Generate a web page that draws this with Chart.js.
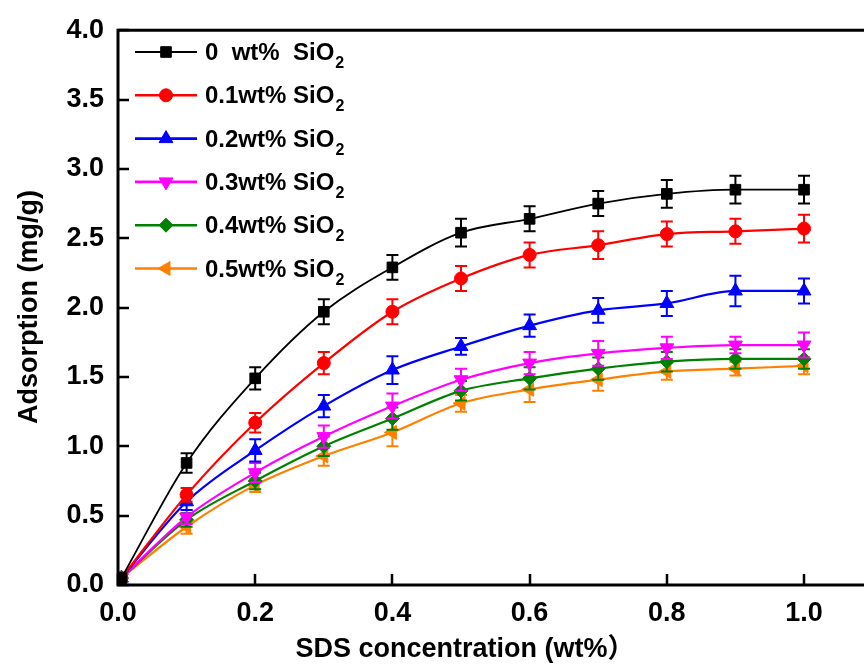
<!DOCTYPE html>
<html>
<head>
<meta charset="utf-8">
<script src="https://cdn.jsdelivr.net/npm/chart.js@4"></script>
<style>
    html, body { margin: 0; padding: 0; background: #fff; }
    #wrap { width: 864px; height: 668px; }
</style>
</head>
<body>
<div id="wrap"><canvas id="chart" width="864" height="668"></canvas></div>
<script>
// SDS concentration (wt%)
const concentrations = [0.005, 0.1, 0.2, 0.3, 0.4, 0.5, 0.6, 0.7, 0.8, 0.9, 1.0];

// adsorption (mg/g) per SiO2 loading
const sio2_0 = [0.05, 0.88, 1.49, 1.97, 2.29, 2.54, 2.64, 2.75, 2.82, 2.85, 2.85];
const sio2_01 = [0.05, 0.65, 1.17, 1.60, 1.97, 2.21, 2.38, 2.45, 2.53, 2.55, 2.57];
const sio2_02 = [0.05, 0.60, 0.97, 1.29, 1.55, 1.72, 1.87, 1.98, 2.03, 2.12, 2.12];
const sio2_03 = [0.05, 0.49, 0.81, 1.07, 1.29, 1.48, 1.60, 1.67, 1.71, 1.73, 1.73];
const sio2_04 = [0.05, 0.47, 0.75, 1.00, 1.20, 1.40, 1.49, 1.56, 1.61, 1.63, 1.63];
const sio2_05 = [0.05, 0.42, 0.72, 0.93, 1.10, 1.31, 1.41, 1.48, 1.54, 1.56, 1.58];

// error bar half heights
const err_0 = [0, 0.07, 0.08, 0.09, 0.09, 0.10, 0.09, 0.09, 0.10, 0.10, 0.10];
const err_01 = [0, 0.05, 0.07, 0.08, 0.09, 0.09, 0.09, 0.10, 0.09, 0.09, 0.10];
const err_02 = [0, 0.06, 0.08, 0.08, 0.10, 0.06, 0.08, 0.09, 0.09, 0.11, 0.09];
const err_03 = [0, 0.05, 0.07, 0.08, 0.09, 0.08, 0.08, 0.09, 0.08, 0.06, 0.09];
const err_04 = [0, 0.05, 0.06, 0.07, 0.08, 0.07, 0.08, 0.08, 0.07, 0.07, 0.07];
const err_05 = [0, 0.05, 0.05, 0.07, 0.10, 0.06, 0.09, 0.08, 0.06, 0.05, 0.06];

const legendLabels = ["0  wt%  SiO", "0.1wt% SiO", "0.2wt% SiO", "0.3wt% SiO", "0.4wt% SiO", "0.5wt% SiO"];
const yTicks = [0, 0.5, 1.0, 1.5, 2.0, 2.5, 3.0, 3.5, 4.0];
const xTicks = [0, 0.2, 0.4, 0.6, 0.8, 1.0];

const FONT = "'Liberation Sans', Arial, 'Noto Sans CJK SC', sans-serif";

function makeSet(label, values, errors, color, style, rotation, radius, width) {
    return {
        label: label,
        data: values.map((v, i) => ({ x: concentrations[i], y: v })),
        errors: errors,
        borderColor: color,
        backgroundColor: color,
        pointBackgroundColor: color,
        pointBorderColor: color,
        pointBorderWidth: 1,
        pointStyle: style,
        pointRotation: rotation,
        pointRadius: radius,
        borderWidth: width,
        cubicInterpolationMode: "monotone",
        tension: 0.4,
    };
}

const datasets = [
    makeSet(legendLabels[0], sio2_0, err_0, "#000000", "rect", 0, 7.5, 1.8),
    makeSet(legendLabels[1], sio2_01, err_01, "#ff0000", "circle", 0, 6.5, 2.2),
    makeSet(legendLabels[2], sio2_02, err_02, "#0000ff", "triangle", 0, 8, 2.2),
    makeSet(legendLabels[3], sio2_03, err_03, "#ff00ff", "triangle", 180, 8, 2.2),
    makeSet(legendLabels[4], sio2_04, err_04, "#008000", "rectRot", 0, 7, 2.2),
    makeSet(legendLabels[5], sio2_05, err_05, "#ff8000", "triangle", -90, 8, 2.2),
];

const decorations = {
    id: "decorations",
    afterDatasetDraw(chart, args) {
        // error bars for this dataset
        const ds = chart.data.datasets[args.index];
        const xs = chart.scales.x, ys = chart.scales.y;
        const ctx = chart.ctx;
        ctx.save();
        ctx.strokeStyle = ds.borderColor;
        ctx.lineWidth = 2;
        ds.data.forEach((p, i) => {
            const e = ds.errors[i];
            if (!e) return;
            const px = xs.getPixelForValue(p.x);
            const top = ys.getPixelForValue(p.y + e);
            const bot = ys.getPixelForValue(p.y - e);
            ctx.beginPath();
            ctx.moveTo(px, top); ctx.lineTo(px, bot);
            ctx.moveTo(px - 6, top); ctx.lineTo(px + 6, top);
            ctx.moveTo(px - 6, bot); ctx.lineTo(px + 6, bot);
            ctx.stroke();
        });
        ctx.restore();
    },
    afterDraw(chart) {
        const ctx = chart.ctx;
        const a = chart.chartArea;
        const xs = chart.scales.x, ys = chart.scales.y;
        ctx.save();
        ctx.strokeStyle = "#000";
        ctx.lineWidth = 3;
        // frame (right side is outside the picture)
        ctx.beginPath();
        ctx.moveTo(chart.width + 2, a.top);
        ctx.lineTo(a.left, a.top);
        ctx.lineTo(a.left, a.bottom);
        ctx.lineTo(chart.width + 2, a.bottom);
        ctx.stroke();
        // inward ticks
        ctx.lineWidth = 2.5;
        ctx.beginPath();
        yTicks.forEach(v => {
            const py = Math.round(ys.getPixelForValue(v));
            ctx.moveTo(a.left, py); ctx.lineTo(a.left + 11, py);
        });
        xTicks.forEach(v => {
            const px = Math.round(xs.getPixelForValue(v));
            ctx.moveTo(px, a.bottom); ctx.lineTo(px, a.bottom - 11);
        });
        ctx.stroke();

        // axis titles
        ctx.fillStyle = "#000";
        ctx.font = "bold 27px " + FONT;
        ctx.textAlign = "center";
        ctx.textBaseline = "middle";
        ctx.fillText("SDS concentration (wt%）", 465, 650);
        ctx.save();
        ctx.translate(30, 307);
        ctx.rotate(-Math.PI / 2);
        ctx.fillText("Adsorption (mg/g)", 0, 0);
        ctx.restore();

        // legend
        chart.data.datasets.forEach((ds, i) => {
            const y = 52 + i * 43.3;
            ctx.strokeStyle = ds.borderColor;
            ctx.fillStyle = ds.borderColor;
            ctx.lineWidth = ds.borderWidth + 0.4;
            ctx.beginPath();
            ctx.moveTo(135, y); ctx.lineTo(197, y);
            ctx.stroke();
            ctx.lineWidth = 1;
            Chart.helpers.drawPoint(ctx, {
                pointStyle: ds.pointStyle,
                rotation: ds.pointRotation,
                radius: ds.pointRadius,
                borderWidth: 1,
            }, 166, y);
            ctx.fillStyle = "#000";
            ctx.textAlign = "left";
            ctx.textBaseline = "alphabetic";
            ctx.font = "bold 24px " + FONT;
            ctx.fillText(ds.label, 205, y + 8);
            const w = ctx.measureText(ds.label).width;
            ctx.font = "bold 16px " + FONT;
            ctx.fillText("2", 205 + w + 1, y + 16);
        });
        ctx.restore();
    },
};

const cfg = {
    type: "line",
    data: { datasets: datasets },
    options: {
        responsive: false,
        animation: false,
        layout: { padding: { top: 25, right: 0, left: 0, bottom: 0 } },
        plugins: {
            legend: { display: false },
            tooltip: { enabled: false },
        },
        scales: {
            x: {
                type: "linear",
                min: 0,
                max: 1.0743,
                grid: { display: false, drawTicks: false },
                border: { display: false },
                ticks: {
                    stepSize: 0.2,
                    includeBounds: false,
                    padding: 12,
                    color: "#000",
                    font: { family: FONT, size: 27, weight: "bold" },
                    callback: v => v.toFixed(1),
                },
                afterFit: s => { s.height = 83; },
            },
            y: {
                min: 0,
                max: 4,
                grid: { display: false, drawTicks: false },
                border: { display: false },
                ticks: {
                    stepSize: 0.5,
                    padding: 14,
                    color: "#000",
                    font: { family: FONT, size: 27, weight: "bold" },
                    callback: v => v.toFixed(1),
                },
                afterFit: s => { s.width = 118; },
            },
        },
    },
    plugins: [decorations],
};

const chart = new Chart(document.getElementById("chart"), cfg);
</script>
</body>
</html>
